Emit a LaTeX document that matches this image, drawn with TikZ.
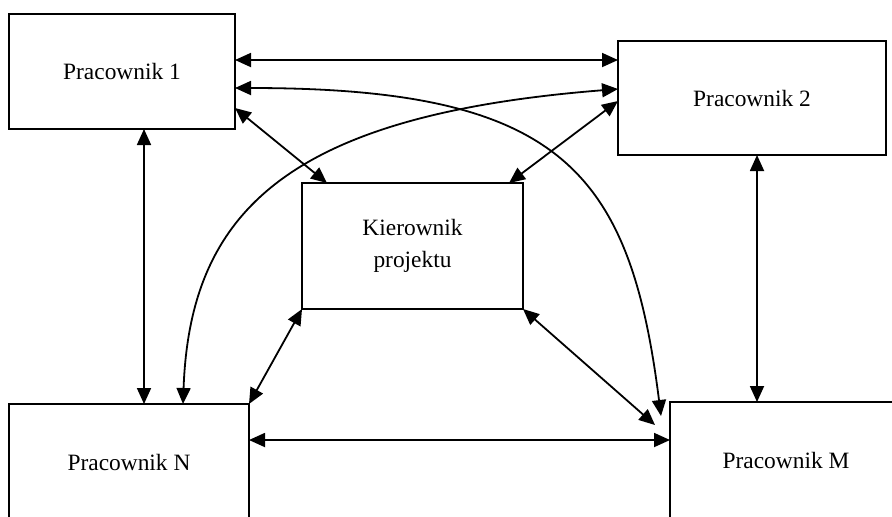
\documentclass[tikz,border=0pt]{standalone}
\usepackage{fontspec}
\setmainfont{Liberation Serif}
\usetikzlibrary{arrows.meta}

\begin{document}
\begin{tikzpicture}[x=0.5pt,y=-0.5pt,
    box/.style={draw,line width=0.9pt,outer sep=0pt,align=center,
        font=\fontsize{11.7}{16}\selectfont},
    link/.style={line width=0.9pt,
        {Triangle[length=8pt,width=7pt]}-{Triangle[length=8pt,width=7pt]}}]
\useasboundingbox (0,0) rectangle (892,516);

\node[box,minimum width=113pt,minimum height=57.5pt] (p1) at (122,71.5) {Pracownik 1};
\node[box,minimum width=134pt,minimum height=57pt] (p2) at (752,98) {Pracownik 2};
\node[box,minimum width=110.5pt,minimum height=63pt] (k) at (412.5,246) {Kierownik\\projektu};
\node[box,minimum width=120pt,minimum height=58pt] (pn) at (129,462) {Pracownik N};
\node[box,minimum width=116pt,minimum height=58pt] (pm) at (786,460) {Pracownik M};

% straight links
\draw[link] ([shift={(0,-11.5)}]p1.east) -- ([shift={(0,-38)}]p2.west);
\draw[link] ([shift={(22,0)}]p1.south) -- ([shift={(15,0)}]pn.north);
\draw[link] ([shift={(5,0)}]p2.south) -- ([shift={(-29,0)}]pm.north);
\draw[link] ([shift={(0,-22)}]pn.east) -- ([shift={(0,-20)}]pm.west);
\draw[link] ([shift={(0,36.5)}]p1.east) -- ([shift={(25,0)}]k.north west);
\draw[link] ([shift={(0,3)}]p2.west) -- ([shift={(-14,0)}]k.north east);
\draw[link] (k.south west) -- (pn.north east);
\draw[link] (k.south east) -- ([shift={(-15,23)}]pm.north west);

% curved links
\draw[link] ([shift={(0,16.5)}]p1.east) .. controls (560,88) and (630,170) .. ([shift={(-9,14)}]pm.north west);
\draw[link] ([shift={(54,0)}]pn.north) .. controls (190,210) and (290,115) .. ([shift={(0,-9)}]p2.west);

\end{tikzpicture}
\end{document}
